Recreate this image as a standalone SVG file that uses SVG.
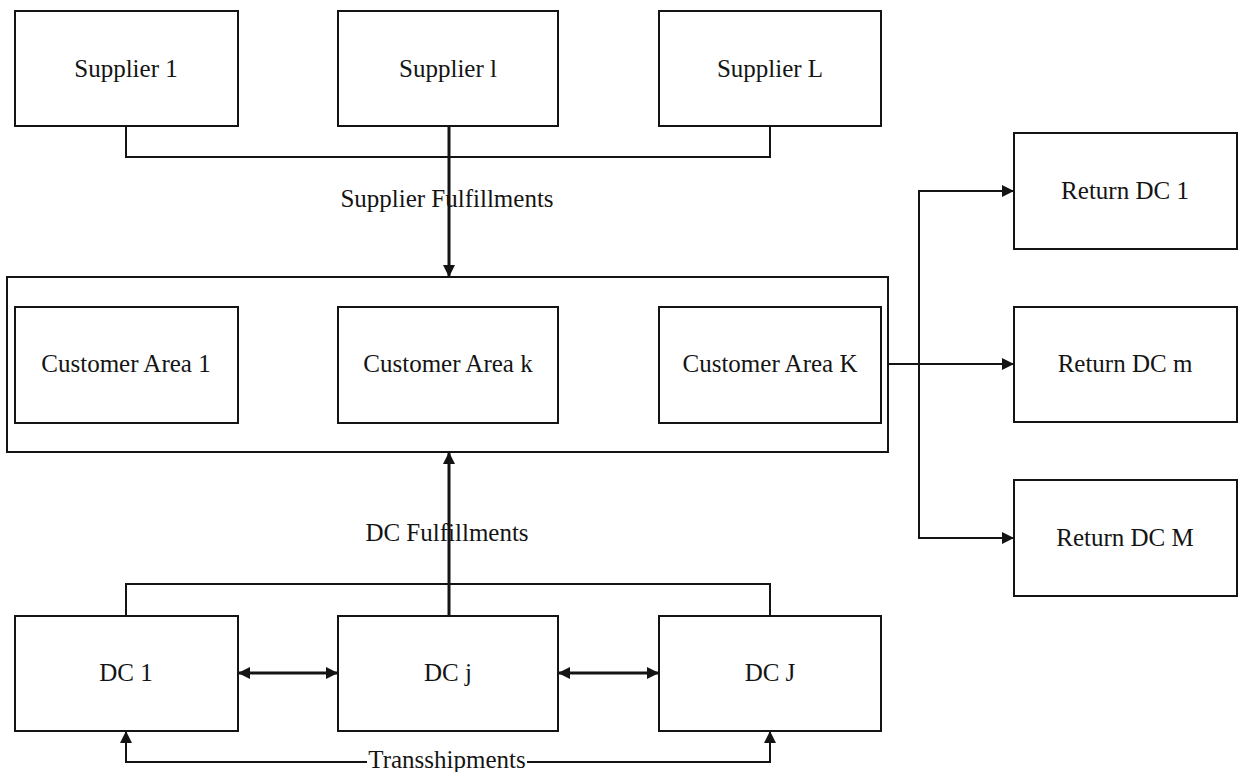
<svg xmlns="http://www.w3.org/2000/svg" width="1238" height="772" viewBox="0 0 1238 772">
<style>
.box{fill:#fff;stroke:#141414;stroke-width:2}
.lbl{font-family:"Liberation Serif","Times New Roman",serif;font-size:25px;fill:#141414;text-anchor:middle}
.ln{fill:none;stroke:#141414;stroke-width:2}
.thick{fill:none;stroke:#141414;stroke-width:3}
</style>
<defs>
<marker id="ah" markerUnits="userSpaceOnUse" markerWidth="14" markerHeight="12" refX="12" refY="6" orient="auto-start-reverse">
<path d="M0,0 L12,6 L0,12 Z" fill="#141414"/>
</marker>
</defs>
<rect width="1238" height="772" fill="#fff"/>
<g id="customer-region"><rect class="box" x="7" y="277" width="881" height="175"/></g>
<g id="supplier-1"><rect class="box" x="15" y="11" width="223" height="115"/><text class="lbl" x="126" y="77">Supplier 1</text></g>
<g id="supplier-l"><rect class="box" x="338" y="11" width="220" height="115"/><text class="lbl" x="448" y="77">Supplier l</text></g>
<g id="supplier-L"><rect class="box" x="659" y="11" width="222" height="115"/><text class="lbl" x="770" y="77">Supplier L</text></g>
<g id="customer-area-1"><rect class="box" x="15" y="307" width="223" height="116"/><text class="lbl" x="126" y="372">Customer Area 1</text></g>
<g id="customer-area-k"><rect class="box" x="338" y="307" width="220" height="116"/><text class="lbl" x="448" y="372">Customer Area k</text></g>
<g id="customer-area-K"><rect class="box" x="659" y="307" width="222" height="116"/><text class="lbl" x="770" y="372">Customer Area K</text></g>
<g id="return-dc-1"><rect class="box" x="1014" y="133" width="223" height="116"/><text class="lbl" x="1125" y="199">Return DC 1</text></g>
<g id="return-dc-m"><rect class="box" x="1014" y="307" width="223" height="115"/><text class="lbl" x="1125" y="372">Return DC m</text></g>
<g id="return-dc-M"><rect class="box" x="1014" y="480" width="223" height="116"/><text class="lbl" x="1125" y="546">Return DC M</text></g>
<g id="dc-1"><rect class="box" x="15" y="616" width="223" height="115"/><text class="lbl" x="126" y="681">DC 1</text></g>
<g id="dc-j"><rect class="box" x="338" y="616" width="220" height="115"/><text class="lbl" x="448" y="681">DC j</text></g>
<g id="dc-J"><rect class="box" x="659" y="616" width="222" height="115"/><text class="lbl" x="770" y="681">DC J</text></g>
<g id="connectors">
<text class="lbl" x="447" y="207">Supplier Fulfillments</text>
<text class="lbl" x="447" y="541">DC Fulfillments</text>
<text class="lbl" x="447" y="768">Transshipments</text>
<path class="ln" d="M126,126 V157 H770 V126"/>
<path class="thick" d="M449,126 V277" marker-end="url(#ah)"/>
<path class="ln" d="M126,616 V584 H770 V616"/>
<path class="thick" d="M449,616 V452" marker-end="url(#ah)"/>
<path class="ln" d="M888,364 H1014" marker-end="url(#ah)"/>
<path class="ln" d="M1014,191 H919 V538 H1014" marker-start="url(#ah)" marker-end="url(#ah)"/>
<path class="thick" d="M238,673 H338" marker-start="url(#ah)" marker-end="url(#ah)"/>
<path class="thick" d="M558,673 H659" marker-start="url(#ah)" marker-end="url(#ah)"/>
<path class="ln" d="M367,762 H126 V731" marker-end="url(#ah)"/>
<path class="ln" d="M527,762 H770 V731" marker-end="url(#ah)"/>
</g>
</svg>
